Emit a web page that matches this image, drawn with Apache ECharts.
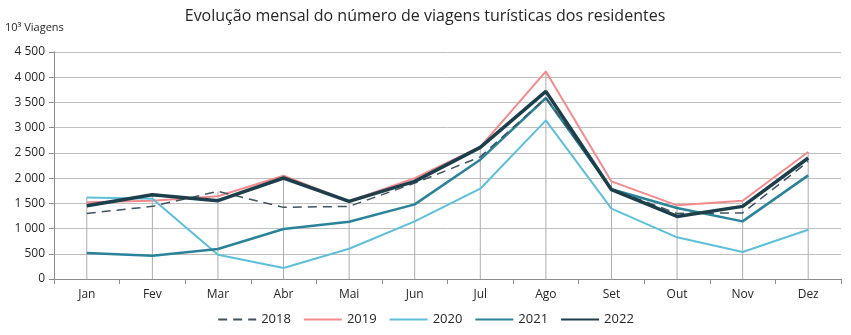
<!DOCTYPE html>
<html>
<head>
<meta charset="utf-8">
<script src="https://cdn.jsdelivr.net/npm/echarts@6/dist/echarts.min.js"></script>
<style>
  html, body { margin: 0; padding: 0; background: #ffffff; }
  #chart { width: 851px; height: 335px; }
</style>
</head>
<body>
<div id="chart"></div>
<script>
// Months and yearly series (thousands of trips)
const months = ['Jan', 'Fev', 'Mar', 'Abr', 'Mai', 'Jun', 'Jul', 'Ago', 'Set', 'Out', 'Nov', 'Dez'];
const v2018 = [1300, 1440, 1737, 1420, 1440, 1900, 2420, 3590, 1780, 1300, 1310, 2330];
const v2019 = [1520, 1550, 1640, 2048, 1540, 2000, 2620, 4115, 1935, 1460, 1550, 2518];
const v2020 = [1618, 1590, 482, 218, 600, 1142, 1790, 3145, 1394, 826, 535, 977];
const v2021 = [515, 462, 595, 991, 1136, 1480, 2365, 3588, 1780, 1408, 1142, 2054];
const v2022 = [1453, 1671, 1552, 2002, 1539, 1935, 2609, 3719, 1770, 1241, 1440, 2399];
const yTicks = [0, 500, 1000, 1500, 2000, 2500, 3000, 3500, 4000, 4500];

// Drop lines reach the highest value of each month
const dropTop = months.map((_, i) => Math.max(v2018[i], v2019[i], v2020[i], v2021[i], v2022[i]));

const fmt = v => String(v).replace(/\B(?=(\d{3})+(?!\d))/g, ' ');
const font = 'Open Sans, Liberation Sans, sans-serif';

const chart = echarts.init(document.getElementById('chart'), null, { renderer: 'canvas' });
chart.setOption({
  animation: false,
  backgroundColor: '#ffffff',
  textStyle: { fontFamily: font },
  title: {
    text: 'Evolução mensal do número de viagens turísticas dos residentes',
    left: 420, top: 3, textAlign: 'center',
    textStyle: { fontFamily: font, fontSize: 16, fontWeight: 'normal', color: '#262626' }
  },
  graphic: [{
    type: 'text', left: 5, top: 22,
    style: { text: '10³ Viagens', font: '11px ' + font, fill: '#262626' }
  }],
  legend: {
    bottom: 4, left: 'center',
    itemWidth: 38, itemHeight: 10, itemGap: 12,
    itemStyle: { opacity: 0 },
    textStyle: { fontFamily: font, fontSize: 13, color: '#262626' },
    data: ['2018', '2019', '2020', '2021', '2022']
  },
  grid: { left: 54, right: 10, top: 52, bottom: 56 },
  xAxis: {
    type: 'category', data: months, boundaryGap: true,
    axisLine: { lineStyle: { color: '#8c8c8c', width: 1 } },
    axisTick: { show: true, length: 5, lineStyle: { color: '#8c8c8c' } },
    axisLabel: { color: '#262626', fontSize: 12, margin: 10, fontFamily: font },
    splitLine: { show: false }
  },
  yAxis: {
    type: 'value', min: 0, max: 4500, interval: 500,
    axisLine: { show: true, lineStyle: { color: '#8c8c8c' } },
    axisTick: { show: true, length: 5, inside: false, lineStyle: { color: '#8c8c8c' } },
    axisLabel: { color: '#262626', fontSize: 12, margin: 9, fontFamily: font,
      formatter: v => yTicks.includes(v) ? fmt(v) : '' },
    splitLine: { lineStyle: { color: '#bfbfbf', width: 1 } }
  },
  series: [
    {
      name: 'drop', type: 'bar', data: dropTop, barWidth: 1, silent: true,
      itemStyle: { color: '#adadad' }, z: 1
    },
    {
      name: '2018', type: 'line', data: v2018, symbol: 'none', z: 3,
      lineStyle: { color: '#3e5460', width: 1.5, type: [9, 6] },
      itemStyle: { color: '#3e5460' }
    },
    {
      name: '2019', type: 'line', data: v2019, symbol: 'none', z: 2,
      lineStyle: { color: '#f58a8c', width: 2 },
      itemStyle: { color: '#f58a8c' }
    },
    {
      name: '2020', type: 'line', data: v2020, symbol: 'none', z: 2,
      lineStyle: { color: '#5ebfda', width: 2 },
      itemStyle: { color: '#5ebfda' }
    },
    {
      name: '2021', type: 'line', data: v2021, symbol: 'none', z: 2,
      lineStyle: { color: '#2a8398', width: 2.5 },
      itemStyle: { color: '#2a8398' }
    },
    {
      name: '2022', type: 'line', data: v2022, symbol: 'none', z: 4,
      lineStyle: { color: '#1c3f4b', width: 3.5 },
      itemStyle: { color: '#1c3f4b' }
    }
  ]
});
</script>
</body>
</html>
